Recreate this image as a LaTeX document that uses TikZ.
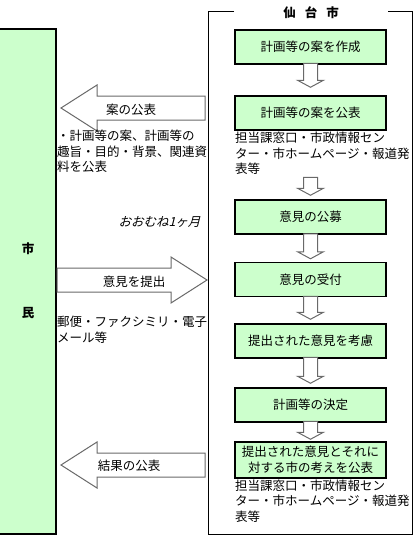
\documentclass[tikz,border=0pt]{standalone}
\usepackage{fontspec}
\setmainfont{Noto Sans CJK JP}
\newfontfamily\slantjp[FakeSlant=0.25]{Noto Sans CJK JP}
\usetikzlibrary{positioning}
\definecolor{lgreen}{RGB}{204,255,204}
\definecolor{agray}{RGB}{105,105,105}
\begin{document}
\begin{tikzpicture}[x=1pt, y=-1pt, font=\fontsize{12.5}{15.5}\selectfont,
  stepbox/.style={draw, line width=1.5pt, fill=lgreen, minimum width=151pt, minimum height=34pt, align=center, inner sep=0pt},
  note/.style={anchor=north west, align=left, inner sep=0pt},
  hollow/.style={draw=agray, line width=1pt, fill=white, line join=miter},
  darr/.pic={\draw[hollow] (0,0) -- (13,-7) -- (7,-7) -- (7,-#1) -- (-7,-#1) -- (-7,-7) -- (-13,-7) -- cycle;},
  larr/.pic={\draw[hollow] (0,0) -- (36,-23) -- (36,-12) -- (#1,-12) -- (#1,12) -- (36,12) -- (36,23) -- cycle;}]
\useasboundingbox (0,0) rectangle (417,546);
\draw[line width=1.5pt, fill=lgreen] (-1,29) rectangle (56,534);
\node (shi) at (28,249) {\bfseries 市};
\node (min) at (28,313) {\bfseries 民};
\draw[line width=1pt] (234,11) -- (208,11) -- (208,534) -- (412,534) -- (412,11) -- (388,11);
\node[inner sep=1pt] (city) at (311,13) {\bfseries 仙\hspace{9pt}台\hspace{9pt}市};
\node[stepbox] (b1) at (310.5,47) {計画等の案を作成};
\node[stepbox] (b2) at (310.5,113) {計画等の案を公表};
\node[stepbox] (b3) at (310.5,217) {意見の公募};
\node[stepbox] (b4) at (310.5,279.5) {意見の受付};
\node[stepbox] (b5) at (310.5,341) {提出された意見を考慮};
\node[stepbox] (b6) at (310.5,405) {計画等の決定};
\node[stepbox, minimum height=36pt] (b7) at (310.5,460) {提出された意見とそれに\\対する市の考えを公表};
\node[note] (n2) at (235,132) {担当課窓口・市政情報セン\\ター・市ホームページ・報道発\\表等};
\node[note] (n7) at (235,479.5) {担当課窓口・市政情報セン\\ター・市ホームページ・報道発\\表等};
\pic at ([yshift=8pt]b2.north) {darr=24};
\pic at ([yshift=4pt]b3.north) {darr=18};
\pic at ([yshift=3pt]b4.north) {darr=25};
\pic at ([yshift=4pt]b5.north) {darr=23};
\pic at ([yshift=4pt]b6.north) {darr=26};
\pic at ([yshift=2pt]b7.north) {darr=18};
\pic at (61,108) {larr=144};
\pic[rotate=180] at (207,280) {larr=150};
\pic at (61,465) {larr=144};
\node (pub) at (131,110) {案の公表};
\node (sub) at (134,282) {意見を提出};
\node (res) at (129,466) {結果の公表};
\node[note] (n1) at (57,130) {・計画等の案、計画等の\\趣旨・目的・背景、関連資\\料を公表};
\node[note] (n4) at (57,316) {郵便・ファクシミリ・電子\\メール等};
\node[anchor=east] (month) at (204,222) {\slantjp おおむね1ヶ月};
\end{tikzpicture}
\end{document}
